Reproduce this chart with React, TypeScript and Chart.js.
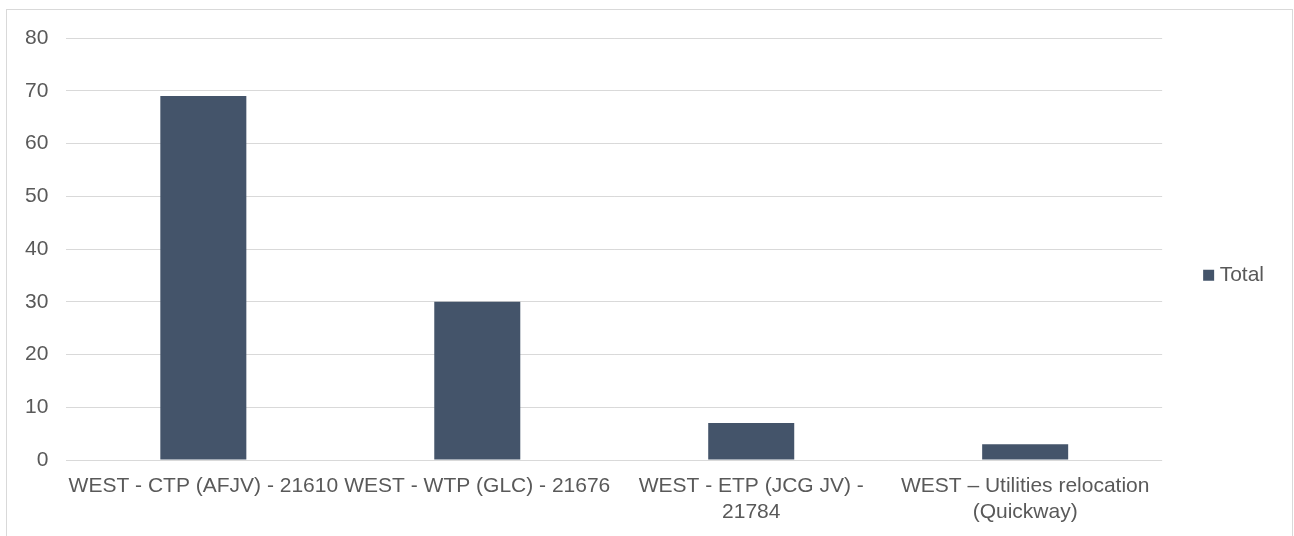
import React, { useEffect, useRef } from "react";
import { Chart, registerables } from "chart.js";

Chart.register(...registerables);

const categories: (string | string[])[] = [
  "WEST - CTP (AFJV) - 21610",
  "WEST - WTP (GLC) - 21676",
  ["WEST - ETP (JCG JV) -", "21784"],
  ["WEST \u2013 Utilities relocation", "(Quickway)"],
];
const totalValues = [69, 30, 7, 3];
const seriesName = "Total";
const yMin = 0;
const yMax = 80;
const yStep = 10;

const FONT = "'Liberation Sans', Arial, sans-serif";
const TEXT = "#595959";
const GRID = "#d9d9d9";
const BAR = "#44546a";

export default function App() {
  const ref = useRef<HTMLCanvasElement | null>(null);

  useEffect(() => {
    if (!ref.current) return;
    const chart = new Chart(ref.current, {
      type: "bar",
      data: {
        labels: categories,
        datasets: [
          {
            label: seriesName,
            data: totalValues,
            backgroundColor: BAR,
            borderWidth: 0,
            categoryPercentage: 1,
            barPercentage: 0.314,
          },
        ],
      },
      options: {
        animation: false,
        responsive: false,
        maintainAspectRatio: false,
        layout: { padding: { left: 0, top: 28, right: 18, bottom: 29.6 } },
        plugins: {
          tooltip: { enabled: false },
          legend: {
            display: true,
            position: "right",
            fullSize: false,
            title: {
              display: true,
              text: "",
              font: { family: FONT, size: 24, lineHeight: 1 },
              padding: { top: 14.3, bottom: 14.3 },
            },
            labels: {
              usePointStyle: true,
              pointStyle: "rect",
              boxWidth: 1,
              boxHeight: 11,
              padding: 46,
              color: TEXT,
              font: { family: FONT, size: 21 },
            },
          },
        },
        scales: {
          x: {
            grid: { display: false, drawTicks: false },
            border: { display: false },
            ticks: {
              color: TEXT,
              font: { family: FONT, size: 21, lineHeight: 1.2 },
              padding: 14,
              maxRotation: 0,
              minRotation: 0,
              autoSkip: false,
            },
          },
          y: {
            min: yMin,
            max: yMax,
            grid: { color: GRID, lineWidth: 1, drawTicks: false },
            border: { display: false },
            ticks: {
              stepSize: yStep,
              color: TEXT,
              font: { family: FONT, size: 21, lineHeight: 0.95 },
              padding: 18,
            },
          },
        },
      },
    });
    return () => chart.destroy();
  }, []);

  return (
    <div
      style={{
        position: "absolute",
        left: 6,
        top: 9,
        width: 1287,
        height: 560,
        boxSizing: "border-box",
        border: `1px solid ${GRID}`,
        background: "#fff",
      }}
    >
      <canvas
        ref={ref}
        width={1285}
        height={558}
        style={{ display: "block", width: 1285, height: 558 }}
      />
    </div>
  );
}
